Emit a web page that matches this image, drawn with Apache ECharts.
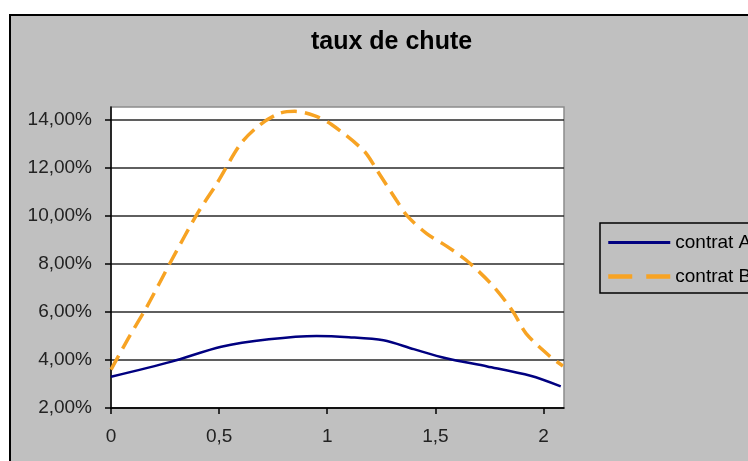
<!DOCTYPE html>
<html>
<head>
<meta charset="utf-8">
<title>taux de chute</title>
<script src="https://cdn.jsdelivr.net/npm/echarts@6/dist/echarts.min.js"></script>
<style>
  html, body { margin: 0; padding: 0; background: #fff; overflow: hidden; }
  #chart { position: absolute; left: 0; top: 0; width: 820px; height: 500px; }
</style>
</head>
<body>
<div id="chart"></div>
<script>
// courbes (x, taux en %)
const xA = [0, 0.28, 0.51, 0.73, 0.95, 1.1, 1.26, 1.4, 1.55, 1.74, 1.94, 2.08]
const tauxA = [3.3, 3.93, 4.55, 4.86, 5.0, 4.95, 4.82, 4.45, 4.07, 3.73, 3.34, 2.9]

const xB = [0, 0.08, 0.165, 0.28, 0.4, 0.49, 0.6, 0.69, 0.78, 0.85, 0.94, 1.02, 1.17, 1.23, 1.32, 1.37, 1.46, 1.55, 1.65, 1.77, 1.86, 1.92, 2.03, 2.09]
const tauxB = [3.6, 4.9, 6.2, 8.15, 10.1, 11.35, 13.0, 13.8, 14.27, 14.35, 14.17, 13.8, 12.7, 11.9, 10.65, 10.0, 9.26, 8.75, 8.1, 7.05, 6.0, 5.1, 4.15, 3.75]

const seriesNames = ['contrat A', 'contrat B']

const zip = (xs, ys) => xs.map((x, i) => [x, ys[i]])
const font = 'Liberation Sans, Arial, sans-serif'

const chart = echarts.init(document.getElementById('chart'))
chart.setOption({
  animation: false,
  backgroundColor: '#fff',
  graphic: [{
    type: 'rect',
    z: -10,
    silent: true,
    shape: { x: 10, y: 15, width: 900, height: 600 },
    style: { fill: '#c0c0c0', stroke: '#000', lineWidth: 2 }
  }],
  title: {
    text: 'taux de chute',
    left: 306,
    top: 25,
    textStyle: { fontFamily: font, fontSize: 25, fontWeight: 'bold', color: '#000' }
  },
  legend: {
    orient: 'vertical',
    left: 600,
    top: 223,
    padding: [10, 20, 7, 6],
    itemWidth: 62,
    itemHeight: 14,
    itemGap: 15,
    backgroundColor: '#c0c0c0',
    borderColor: '#000',
    borderWidth: 1.5,
    borderRadius: 0,
    itemStyle: { opacity: 0 },
    textStyle: { fontFamily: font, fontSize: 19, color: '#000' },
    data: [
      { name: seriesNames[0], lineStyle: { width: 3 } },
      { name: seriesNames[1], lineStyle: { width: 4.5, type: [24, 14] } }
    ]
  },
  grid: {
    left: 111, top: 107, width: 453, height: 301,
    show: true,
    backgroundColor: '#fff',
    borderColor: '#8c8c8c',
    borderWidth: 1.5
  },
  xAxis: {
    type: 'value',
    min: 0,
    max: 2.095,
    interval: 0.5,
    axisLine: { lineStyle: { color: '#000', width: 1.5 } },
    axisTick: { show: true, length: 6, lineStyle: { color: '#000', width: 1.5 } },
    axisLabel: {
      margin: 19,
      showMaxLabel: false,
      fontFamily: font, fontSize: 19, color: '#222',
      formatter: v => String(v).replace('.', ',')
    },
    splitLine: { show: false }
  },
  yAxis: {
    type: 'value',
    min: 2,
    max: 14.53,
    interval: 2,
    axisLine: { show: true, lineStyle: { color: '#000', width: 1.5 } },
    axisTick: { show: true, length: 6, lineStyle: { color: '#000', width: 1.5 } },
    axisLabel: {
      margin: 19,
      showMaxLabel: false,
      fontFamily: font, fontSize: 19, color: '#222',
      formatter: v => v.toFixed(2).replace('.', ',') + '%'
    },
    splitLine: { show: true, showMaxLine: false, lineStyle: { color: '#2a2a2a', width: 1.5 } }
  },
  series: [
    {
      name: seriesNames[0],
      type: 'line',
      data: zip(xA, tauxA),
      smooth: 0.3,
      symbol: 'none',
      lineStyle: { color: '#000080', width: 2.5 },
      itemStyle: { color: '#000080' }
    },
    {
      name: seriesNames[1],
      type: 'line',
      data: zip(xB, tauxB),
      smooth: 0.3,
      symbol: 'none',
      lineStyle: { color: '#f7a323', width: 3.5, type: [16, 8] },
      itemStyle: { color: '#f7a323' }
    }
  ]
})
</script>
</body>
</html>
